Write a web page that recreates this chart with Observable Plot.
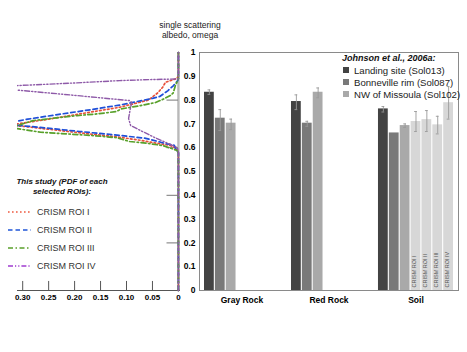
<!DOCTYPE html>
<html><head><meta charset="utf-8">
<script src="https://cdn.jsdelivr.net/npm/d3@7"></script>
<script src="https://cdn.jsdelivr.net/npm/@observablehq/plot@0.6"></script>
<style>
body{margin:0;background:#fff;font-family:"Liberation Sans",Arial,sans-serif;}
#wrap{position:relative;width:467px;height:352px;overflow:hidden;background:#fff;}
#leftAxes,#leftCurves,#right{position:absolute;top:0;}
#leftAxes{left:0;} #right{left:182px;}
#leftCurves{left:17px;width:165px;height:320px;overflow:hidden;}
.t{position:absolute;white-space:nowrap;}
</style></head><body>
<div id="wrap">
  <div id="leftAxes"></div><div id="leftCurves"></div><div id="right"></div>
  <div class="t" style="left:150px;top:20px;width:80px;text-align:center;font-size:8.5px;line-height:10px;color:#222">single scattering<br>albedo, omega</div>
  <div class="t" style="left:2px;top:177px;width:120px;text-align:center;font-size:8px;line-height:10px;font-weight:bold;font-style:italic;color:#111">This study (PDF of each<br>selected ROIs):</div>
  <div id="leg1"></div>
  <div id="leg2"></div>
</div>
<script>
// ---------- Left panel: PDFs of omega for each CRISM ROI ----------
const roiNames = ["CRISM ROI I", "CRISM ROI II", "CRISM ROI III", "CRISM ROI IV"];
const roiColors = ["#e8503a", "#1f4fd8", "#58a02a", "#8e5aa8"];
const roiLegendColors = ["#ee5a40", "#1f56d8", "#5aa02a", "#a03cd0"];
const roiDash = ["1.6,2.4", "4.5,3", "5,2.5,1.5,2.5", "5,2,1.2,2,1.2,2"];

const roiIOmega   = [0, 0.58, 0.60, 0.61, 0.62, 0.63, 0.644, 0.66, 0.675, 0.69, 0.697, 0.70, 0.72, 0.74, 0.77, 0.80, 0.83, 0.855, 0.875, 0.89, 0.90, 1];
const roiIDensity = [0, 0,    0.006,0.017,0.045,0.07, 0.113, 0.18, 0.24,  0.30, 0.35,  0.31, 0.25, 0.195,0.113,0.058,0.04, 0.03,  0.025, 0.004,0,    0];

const roiIIOmega   = [0, 0.58, 0.59, 0.61, 0.617, 0.63, 0.64, 0.651, 0.668, 0.686, 0.70, 0.72, 0.74, 0.76, 0.78, 0.807, 0.815, 0.84, 0.86, 0.88, 0.89, 1];
const roiIIDensity = [0, 0,    0.004,0.008,0.024, 0.046,0.065,0.11,  0.19,  0.27,  0.34, 0.29, 0.23, 0.168,0.111,0.05,  0.036, 0.02, 0.01, 0.002,0,    0];

const roiIIIOmega   = [0, 0.575, 0.588, 0.609, 0.619, 0.626, 0.642, 0.651, 0.658, 0.665, 0.68, 0.687, 0.693, 0.714, 0.724, 0.735, 0.742, 0.752, 0.763, 0.777, 0.79, 0.805, 0.82, 0.83, 0.86, 0.88, 0.89, 1];
const roiIIIDensity = [0, 0,     0.002, 0.03,  0.062, 0.094, 0.119, 0.165, 0.215, 0.265, 0.31, 0.36,  0.31,  0.28,  0.24,  0.195, 0.156, 0.12,  0.11,  0.073, 0.044, 0.028, 0.015, 0.01, 0.006,0.002,0,    0];

const roiIVOmega   = [0, 0.58, 0.60, 0.62, 0.644, 0.672, 0.693, 0.723, 0.76, 0.791, 0.798, 0.82, 0.842, 0.854, 0.861, 0.872, 0.882, 0.886, 0.889, 1];
const roiIVDensity = [0, 0,    0.002,0.022,0.047, 0.073, 0.092, 0.096, 0.093,0.09,  0.094, 0.2,  0.31,  0.37,  0.31,  0.2,   0.113, 0.056, 0,     0];

const leftXTicks = [0.30, 0.25, 0.20, 0.15, 0.10, 0.05, 0];
const leftYTicks = [0.2, 0.4, 0.6, 0.8];

// ---------- Right panel: single scattering albedo bars ----------
const groups = ["Gray Rock", "Red Rock", "Soil"];
const series = ["Landing site (Sol013)", "Bonneville rim (Sol087)", "NW of Missoula (Sol102)", "CRISM ROI I", "CRISM ROI II", "CRISM ROI III", "CRISM ROI IV"];
const seriesColors = ["#434343", "#797979", "#a9a9a9", "#d7d7d7", "#d7d7d7", "#d7d7d7", "#d7d7d7"];

const landing     = [0.833, 0.794, 0.763];
const landingLo   = [0.824, 0.760, 0.750];
const landingHi   = [0.843, 0.822, 0.773];
const bonneville  = [0.724, 0.703, 0.662];
const bonnevilleLo= [0.672, 0.690, null];
const bonnevilleHi= [0.760, 0.711, null];
const missoula    = [0.703, 0.833, 0.693];
const missoulaLo  = [0.676, 0.810, 0.685];
const missoulaHi  = [0.720, 0.851, 0.700];
const crismSoil   = [0.710, 0.718, 0.696, 0.789];
const crismSoilLo = [0.668, 0.668, 0.658, 0.720];
const crismSoilHi = [0.752, 0.756, 0.732, 0.857];
const yTicks = [0, 0.1, 0.2, 0.3, 0.4, 0.5, 0.6, 0.7, 0.8, 0.9, 1];

// ---------- build tables ----------
const roiOmegas = [roiIOmega, roiIIOmega, roiIIIOmega, roiIVOmega];
const roiDens = [roiIDensity, roiIIDensity, roiIIIDensity, roiIVDensity];

const font = "Liberation Sans, Arial, sans-serif";
const xDomainLeft = [0.31, -0.004];

const curveMarks = roiNames.map((name, i) => {
  const rows = roiOmegas[i].map((w, j) => ({roi: name, omega: w, density: roiDens[i][j]}));
  return Plot.line(rows, {x: "density", y: "omega", stroke: roiColors[i], strokeWidth: i === 3 ? 1.4 : 1.7,
    strokeDasharray: roiDash[i]});
});

// axes / frame of the left panel
const leftAxes = Plot.plot({
  width: 182, height: 320,
  marginLeft: 17, marginRight: 2, marginTop: 52, marginBottom: 30,
  style: {fontFamily: font, fontSize: "8px", fontWeight: "bold", color: "#000", background: "transparent"},
  x: {domain: xDomainLeft, ticks: leftXTicks, tickFormat: d => d === 0 ? "0" : d.toFixed(2), tickSize: 0, tickPadding: 4, label: null},
  y: {domain: [0, 1], axis: null},
  marks: [
    Plot.ruleX([0], {stroke: "#b9b9b9", strokeWidth: 2.4}),
    Plot.ruleY([0], {stroke: "#555", strokeWidth: 1}),
    Plot.ruleX(leftXTicks, {x: d => d, y1: 0, y2: 0.038, stroke: "#555"}),
    Plot.ruleY(leftYTicks, {y: d => d, x1: 0, x2: 0.022, stroke: "#777"})
  ]
});
document.getElementById("leftAxes").appendChild(leftAxes);

// curves: drawn in a box whose left edge is the panel's frame, so the peaks beyond 0.31 are cut off
const leftCurves = Plot.plot({
  width: 165, height: 320,
  marginLeft: 0, marginRight: 2, marginTop: 52, marginBottom: 30,
  style: {background: "transparent"},
  x: {domain: xDomainLeft, axis: null},
  y: {domain: [0, 1], axis: null},
  marks: curveMarks
});
document.getElementById("leftCurves").appendChild(leftCurves);

// slot domain: 7 slots per group with a spacer between groups
const slotDomain = [];
groups.forEach((g, gi) => {
  if (gi > 0) slotDomain.push("gap|" + gi);
  series.forEach((s, si) => slotDomain.push(g + "|" + si));
});
const rows = [];
groups.forEach((g, gi) => {
  const add = (si, v, lo, hi) => { if (v != null) rows.push({group: g, series: series[si], key: g + "|" + si, value: v, lo, hi}); };
  add(0, landing[gi], landingLo[gi], landingHi[gi]);
  add(1, bonneville[gi], bonnevilleLo[gi], bonnevilleHi[gi]);
  add(2, missoula[gi], missoulaLo[gi], missoulaHi[gi]);
});
crismSoil.forEach((v, i) => rows.push({group: "Soil", series: series[3 + i], key: "Soil|" + (3 + i), value: v, lo: crismSoilLo[i], hi: crismSoilHi[i]}));
const errRows = rows.filter(d => d.lo != null);
const crismRows = rows.filter(d => d.series.startsWith("CRISM"));

const rightChart = Plot.plot({
  width: 285, height: 320,
  marginLeft: 17, marginRight: 9, marginTop: 52, marginBottom: 30,
  style: {fontFamily: font, fontSize: "8.5px", fontWeight: "bold", color: "#000", background: "transparent"},
  x: {type: "band", domain: slotDomain, paddingInner: 0.1, paddingOuter: 0.46, round: false,
      ticks: groups.map(g => g + "|3"), tickFormat: k => k.split("|")[0], tickSize: 0, tickPadding: 6, label: null},
  y: {domain: [0, 1], ticks: yTicks, tickFormat: d => (d === 0 || d === 1) ? String(d) : d.toFixed(1), tickSize: 0, tickPadding: 4, label: null},
  color: {domain: series, range: seriesColors},
  marks: [
    Plot.barY(rows, {x: "key", y: "value", fill: "series"}),
    Plot.ruleX(errRows, {x: "key", y1: "lo", y2: "hi", stroke: "#9a9a9a", strokeWidth: 0.9}),
    Plot.tickY(errRows, {x: "key", y: "lo", stroke: "#9a9a9a", strokeWidth: 0.9, insetLeft: 3.5, insetRight: 3.5}),
    Plot.tickY(errRows, {x: "key", y: "hi", stroke: "#9a9a9a", strokeWidth: 0.9, insetLeft: 3.5, insetRight: 3.5}),
    Plot.text(crismRows, {x: "key", frameAnchor: "bottom", dy: -3, rotate: -90, textAnchor: "start", text: "series",
      fontSize: 5.5, fontWeight: "normal", fill: "#555"}),
    Plot.frame({stroke: "#8a8a8a"})
  ]
});
document.getElementById("right").appendChild(rightChart);

// ---------- legends ----------
const leg1 = document.getElementById("leg1");
const legY = [212, 229.5, 247.5, 265.5];
roiNames.forEach((n, i) => {
  const d = document.createElement("div");
  d.className = "t";
  d.style.cssText = `left:6px;top:${legY[i] - 6}px;height:12px;font-size:9px;line-height:12px;color:#333;`;
  d.innerHTML = `<svg width="28" height="12" style="vertical-align:top"><line x1="2" x2="25" y1="6" y2="6" stroke="${roiLegendColors[i]}" stroke-width="1.6" stroke-dasharray="${roiDash[i]}"/></svg><span style="margin-left:3px">${n}</span>`;
  leg1.appendChild(d);
});

const leg2 = document.getElementById("leg2");
const t2 = document.createElement("div");
t2.className = "t";
t2.style.cssText = "left:342px;top:52px;font-size:9px;font-weight:bold;font-style:italic;color:#111;line-height:12px;";
t2.textContent = "Johnson et al., 2006a:";
leg2.appendChild(t2);
const leg2Y = [71, 82.8, 94.7];
[0, 1, 2].forEach(i => {
  const d = document.createElement("div");
  d.className = "t";
  d.style.cssText = `left:343px;top:${leg2Y[i] - 6}px;font-size:9.6px;line-height:12px;color:#222;`;
  d.innerHTML = `<span style="display:inline-block;width:6px;height:6px;background:${seriesColors[i]};vertical-align:middle;margin-top:-2px"></span><span style="margin-left:5px">${series[i]}</span>`;
  leg2.appendChild(d);
});
</script>
</body></html>
